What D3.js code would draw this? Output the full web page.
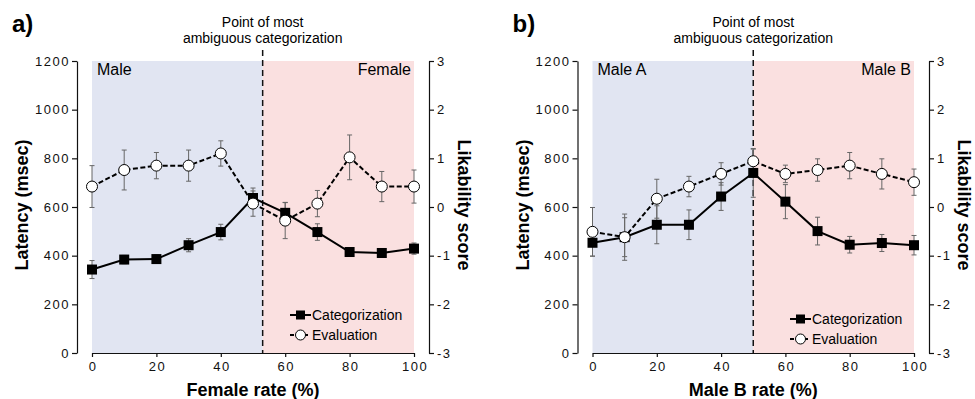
<!DOCTYPE html>
<html>
<head>
<meta charset="utf-8">
<script src="https://cdn.jsdelivr.net/npm/d3@7"></script>
<style>
  body { margin: 0; background: #fff; }
  svg { display: block; font-family: "Liberation Sans", Arial, sans-serif; }
  .tick text { font-size: 13px; letter-spacing: 1.5px; fill: #111; }
  .tick line, .domain { stroke: #111; stroke-width: 1.2; }
</style>
</head>
<body>
<div id="chart"></div>
<script>
// values
var rates = [0, 10, 20, 30, 40, 50, 60, 70, 80, 90, 100]

var aCatMean = [343, 384, 386, 443, 497, 637, 576, 497, 415, 411, 429]
var aCatErr = [37, 17, 17, 27, 32, 41, 43, 34, 16, 16, 23]
var aEvalMean = [0.42, 0.76, 0.85, 0.85, 1.10, 0.07, -0.28, 0.07, 1.02, 0.42, 0.42]
var aEvalErr = [0.43, 0.41, 0.27, 0.32, 0.26, 0.26, 0.37, 0.27, 0.46, 0.31, 0.34]

var bCatMean = [453, 476, 527, 527, 643, 740, 622, 501, 445, 452, 443]
var bCatErr = [55, 95, 78, 61, 57, 100, 70, 57, 34, 35, 40]
var bEvalMean = [-0.51, -0.62, 0.17, 0.42, 0.68, 0.94, 0.68, 0.76, 0.85, 0.68, 0.51]
var bEvalErr = [0.5, 0.4, 0.4, 0.21, 0.23, 0.25, 0.18, 0.23, 0.27, 0.31, 0.27]

var latencyTicks = [0, 200, 400, 600, 800, 1000, 1200]
var likeTicks = [-3, -2, -1, 0, 1, 2, 3]
var rateTicks = [0, 20, 40, 60, 80, 100]

var panels = [
  { tag: 'a)', xTitle: 'Female rate (%)', left: 'Male', right: 'Female', cut: 53,
    cat: aCatMean, catErr: aCatErr, ev: aEvalMean, evErr: aEvalErr,
    x0: 92, x1: 414, legX: 290, legY: 315 },
  { tag: 'b)', xTitle: 'Male B rate (%)', left: 'Male A', right: 'Male B', cut: 50,
    cat: bCatMean, catErr: bCatErr, ev: bEvalMean, evErr: bEvalErr,
    x0: 592.5, x1: 914, legX: 790, legY: 319 }
]

// plain hyphen for negatives, no thousands separator
var fmt = function (d) { return String(d) }

var svg = d3.select('#chart').append('svg')
  .attr('width', 975)
  .attr('height', 399)

var yTop = 61, yBot = 353

panels.forEach(function (p) {
  var g = svg.append('g')
  var x = d3.scaleLinear().domain([0, 100]).range([p.x0, p.x1])
  var yL = d3.scaleLinear().domain([0, 1200]).range([yBot, yTop])
  var yR = d3.scaleLinear().domain([-3, 3]).range([yBot, yTop])

  // background halves
  g.append('rect')
    .attr('x', x(0)).attr('y', yTop)
    .attr('width', x(p.cut) - x(0)).attr('height', yBot - yTop)
    .attr('fill', '#e1e5f2')
  g.append('rect')
    .attr('x', x(p.cut)).attr('y', yTop)
    .attr('width', x(100) - x(p.cut)).attr('height', yBot - yTop)
    .attr('fill', '#fae0e0')

  // axes
  g.append('g')
    .attr('transform', 'translate(' + (p.x0 - 15) + ',0)')
    .call(d3.axisLeft(yL).tickValues(latencyTicks).tickSize(5).tickSizeOuter(0).tickPadding(2)
      .tickFormat(fmt))
  g.append('g')
    .attr('transform', 'translate(' + (p.x1 + 15) + ',0)')
    .call(d3.axisRight(yR).tickValues(likeTicks).tickSize(5).tickSizeOuter(0).tickPadding(3)
      .tickFormat(fmt))
  var xa = g.append('g')
    .attr('transform', 'translate(0,' + yBot + ')')
    .call(d3.axisBottom(x).tickValues(rateTicks).tickSize(4).tickSizeOuter(0).tickPadding(5)
      .tickFormat(fmt))
  xa.selectAll('.tick text').attr('dx', '0.05em')

  // cut line
  g.append('line')
    .attr('x1', x(p.cut)).attr('x2', x(p.cut))
    .attr('y1', 50).attr('y2', yBot)
    .attr('stroke', '#111').attr('stroke-width', 1.5)
    .attr('stroke-dasharray', '6,4')

  // texts
  g.append('text').attr('x', p.x0 - 80).attr('y', 32)
    .attr('font-size', 24).attr('font-weight', 'bold').text(p.tag)
  g.append('text').attr('x', x(p.cut)).attr('y', 27)
    .attr('text-anchor', 'middle').attr('font-size', 14).text('Point of most')
  g.append('text').attr('x', x(p.cut)).attr('y', 43)
    .attr('text-anchor', 'middle').attr('font-size', 14).text('ambiguous categorization')
  g.append('text').attr('x', x(0) + 5).attr('y', 75)
    .attr('font-size', 16).text(p.left)
  g.append('text').attr('x', x(100) - 3).attr('y', 75)
    .attr('text-anchor', 'end').attr('font-size', 16).text(p.right)
  g.append('text').attr('x', (p.x0 + p.x1) / 2).attr('y', 396)
    .attr('text-anchor', 'middle').attr('font-size', 18).attr('font-weight', 'bold')
    .text(p.xTitle)
  g.append('text')
    .attr('transform', 'translate(' + (p.x0 - 64) + ',' + 205 + ') rotate(-90)')
    .attr('text-anchor', 'middle').attr('font-size', 18).attr('font-weight', 'bold')
    .text('Latency (msec)')
  g.append('text')
    .attr('transform', 'translate(' + (p.x1 + 44) + ',' + 205 + ') rotate(90)')
    .attr('text-anchor', 'middle').attr('font-size', 18).attr('font-weight', 'bold')
    .text('Likability score')

  // error bars
  function errBars (means, errs, y) {
    rates.forEach(function (r, i) {
      var cx = x(r), t = y(means[i] + errs[i]), b = y(means[i] - errs[i])
      g.append('path')
        .attr('d', 'M' + cx + ',' + t + 'V' + b +
          'M' + (cx - 2.5) + ',' + t + 'H' + (cx + 2.5) +
          'M' + (cx - 2.5) + ',' + b + 'H' + (cx + 2.5))
        .attr('stroke', '#666').attr('stroke-width', 1).attr('fill', 'none')
    })
  }
  errBars(p.cat, p.catErr, yL)
  errBars(p.ev, p.evErr, yR)

  // categorization
  var catLine = d3.line().x(function (d, i) { return x(rates[i]) }).y(function (d) { return yL(d) })
  g.append('path').attr('d', catLine(p.cat))
    .attr('fill', 'none').attr('stroke', '#000').attr('stroke-width', 2)
  g.selectAll(null).data(p.cat).enter().append('rect')
    .attr('x', function (d, i) { return x(rates[i]) - 5 })
    .attr('y', function (d) { return yL(d) - 5 })
    .attr('width', 10).attr('height', 10).attr('fill', '#000')

  // evaluation
  var evLine = d3.line().x(function (d, i) { return x(rates[i]) }).y(function (d) { return yR(d) })
  g.append('path').attr('d', evLine(p.ev))
    .attr('fill', 'none').attr('stroke', '#000').attr('stroke-width', 2)
    .attr('stroke-dasharray', '5,2.5')
  g.selectAll(null).data(p.ev).enter().append('circle')
    .attr('cx', function (d, i) { return x(rates[i]) })
    .attr('cy', function (d) { return yR(d) })
    .attr('r', 5.5).attr('fill', '#fff').attr('stroke', '#000').attr('stroke-width', 1)

  // legend
  var lx = p.legX
  var l1 = p.legY, l2 = p.legY + 20
  g.append('line').attr('x1', lx).attr('x2', lx + 21).attr('y1', l1).attr('y2', l1)
    .attr('stroke', '#000').attr('stroke-width', 2)
  g.append('rect').attr('x', lx + 6).attr('y', l1 - 4.5).attr('width', 9).attr('height', 9)
  g.append('text').attr('x', lx + 22).attr('y', l1 + 5).attr('font-size', 14).text('Categorization')
  g.append('line').attr('x1', lx).attr('x2', lx + 21).attr('y1', l2).attr('y2', l2)
    .attr('stroke', '#000').attr('stroke-width', 2).attr('stroke-dasharray', '4,3')
  g.append('circle').attr('cx', lx + 10.5).attr('cy', l2).attr('r', 5)
    .attr('fill', '#fff').attr('stroke', '#000').attr('stroke-width', 1)
  g.append('text').attr('x', lx + 22).attr('y', l2 + 5).attr('font-size', 14).text('Evaluation')
})
</script>
</body>
</html>
